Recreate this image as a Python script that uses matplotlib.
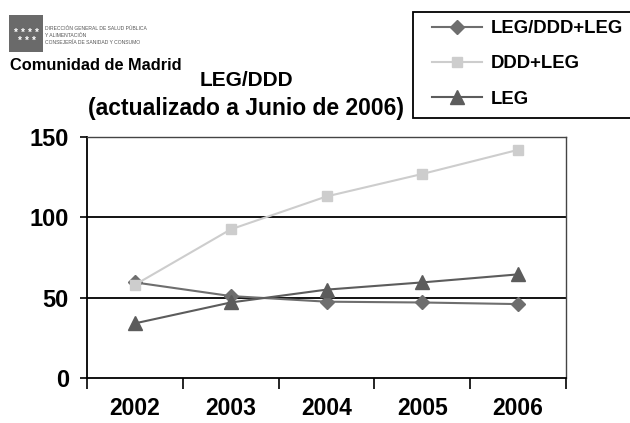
import matplotlib
matplotlib.use('Agg')
from matplotlib import pyplot as plt
from matplotlib.patches import Rectangle

plt.rcParams['font.family'] = ['Liberation Sans', 'DejaVu Sans']

# data
years = ['2002', '2003', '2004', '2005', '2006']
leg_ddd_leg = [59.5, 51, 47.5, 47, 46]
ddd_leg = [58, 92.5, 113, 127, 142]
leg = [34, 47, 55, 59.5, 64.5]
yticks = [0, 50, 100, 150]

fig = plt.figure(figsize=(6.3, 4.23), dpi=100)
ax = fig.add_axes([87/630, 1 - 378/423, (566 - 87)/630, (378 - 137)/423])

x = list(range(len(years)))
ax.plot(x, leg_ddd_leg, color='#6e6e6e', marker='D', markersize=7, linewidth=1.5, label='LEG/DDD+LEG')
ax.plot(x, ddd_leg, color='#cdcdcd', marker='s', markersize=7, linewidth=1.5, label='DDD+LEG')
ax.plot(x, leg, color='#5c5c5c', marker='^', markersize=10, linewidth=1.5, label='LEG')

# gridlines
for v in [50, 100]:
    ax.axhline(v, color='black', linewidth=1.3, zorder=0)

ax.set_xlim(-0.5, len(years) - 0.5)
ax.set_ylim(0, 150)
ax.set_yticks(yticks)
ax.set_yticklabels([str(v) for v in yticks], fontsize=17, fontweight='bold')
ax.set_xticks([i - 0.5 for i in range(len(years) + 1)])
ax.set_xticklabels([])
ax.set_xticks(x, minor=True)
ax.set_xticklabels(years, minor=True, fontsize=16.5, fontweight='bold')
ax.tick_params(axis='x', which='major', length=8, width=1.2, direction='out')
ax.tick_params(axis='x', which='minor', length=0, pad=14)
ax.tick_params(axis='y', length=5, width=1.2, pad=8)

ax.spines['left'].set_linewidth(1.3)
ax.spines['bottom'].set_linewidth(1.3)
for s in ['top', 'right']:
    ax.spines[s].set_color('#444444')
    ax.spines[s].set_linewidth(1.0)

# title
fig.text(246/630, 1 - 80/423, 'LEG/DDD', ha='center', va='center', fontsize=15, fontweight='bold')
fig.text(246/630, 1 - 108/423, '(actualizado a Junio de 2006)', ha='center', va='center', fontsize=16.5, fontweight='bold')

# legend box drawn by hand, legend entries without frame
fig.patches.append(Rectangle((413/630, 1 - 118/423), 230/630, 106/423, transform=fig.transFigure,
                             facecolor='white', edgecolor='black', linewidth=1.3))
leg_box = fig.legend(loc='upper left', bbox_to_anchor=(432/630, 1 - 20/423), fontsize=13.3,
                     frameon=False, handlelength=2.7, labelspacing=1.0, borderpad=0,
                     handletextpad=0.5, borderaxespad=0)
for t in leg_box.get_texts():
    t.set_fontweight('bold')

# logo
fig.patches.append(Rectangle((9/630, 1 - 52/423), 34/630, 37/423, transform=fig.transFigure,
                             facecolor='#6a6a6a', edgecolor='none'))
for i in range(4):
    fig.text((16 + i * 7)/630, 1 - 33/423, '*', color='white', fontsize=7, fontweight='bold', ha='center', va='center')
for i in range(3):
    fig.text((20 + i * 7)/630, 1 - 41/423, '*', color='white', fontsize=7, fontweight='bold', ha='center', va='center')
fig.text(45/630, 1 - 26/423, 'DIRECCIÓN GENERAL DE SALUD PÚBLICA\nY ALIMENTACIÓN\nCONSEJERÍA DE SANIDAD Y CONSUMO',
         fontsize=3.6, color='#555555', ha='left', va='top', linespacing=1.5)
fig.text(10/630, 1 - 65/423, 'Comunidad de Madrid', fontsize=11.8, fontweight='bold', ha='left', va='center')

fig.savefig('out.png', dpi=100)
